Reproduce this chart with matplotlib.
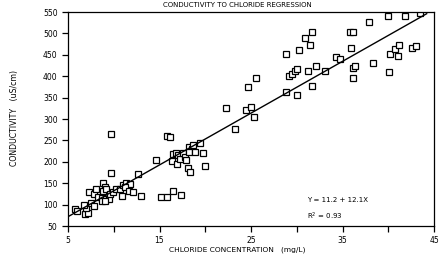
import numpy as np
import matplotlib
matplotlib.use("Agg")
import matplotlib.pyplot as plt

# chloride (mg/L) vs conductivity (uS/cm)
chloride = [5.8, 6.0, 6.9, 7.2, 7.0, 6.75, 7.5, 7.8, 7.25, 7.85, 8.1, 8.85,
            9.05, 8.8, 9.2, 8.3, 8.7, 8.7, 9.15, 9.5, 9.0, 9.75, 9.75, 9.6,
            9.95, 10.3, 10.7, 10.9, 11.0, 11.3, 11.8, 11.2, 11.7, 12.1, 12.7, 13.0,
            14.6, 15.2, 15.8, 16.5, 17.4, 15.8, 16.1, 16.5, 16.8, 17.0, 16.4, 16.9,
            17.2, 17.6, 17.8, 17.9, 18.2, 18.5, 18.7, 18.2, 18.9, 19.4, 19.8, 18.1,
            18.3, 20.0,
            22.3, 23.2, 24.4, 25.05, 25.3, 24.7, 25.6, 28.8, 30.2, 30.9, 31.7, 31.5,
            29.2, 29.5, 29.8, 30.0, 31.2, 32.1, 33.1, 28.8, 30.0, 31.7, 34.3, 34.7,
            35.85, 36.2, 35.9, 36.1, 36.35, 36.2, 37.9, 38.3, 40.0, 41.85, 43.5, 40.2,
            40.1, 40.75, 41.2, 41.1, 42.6, 43.0]
conductivity = [89, 84, 78, 81, 91, 99, 104, 97, 130, 125, 136, 150,
                141, 132, 136, 118, 115, 109, 112, 112, 109, 175, 266, 125,
                130, 136, 136, 120, 146, 150, 148, 142, 132, 130, 171, 120,
                204, 117, 118, 132, 122, 260, 259, 218, 221, 216, 203, 196,
                206, 221, 212, 204, 235, 229, 239, 224, 224, 245, 221, 185,
                177, 190,
                325, 276, 321, 329, 304, 374, 395, 453, 461, 490, 504, 472,
                400, 405, 412, 416, 413, 424, 412, 363, 355, 377, 444, 441,
                504, 504, 467, 418, 423, 396, 527, 432, 541, 541, 547, 451,
                409, 463, 473, 447, 466, 470]

intercept = 11.2
slope = 12.1
r2 = 0.93

fig = plt.figure(figsize=(4.42, 2.6), dpi=100)
ax = fig.add_axes([68/442, 1 - 226/260, 366/442, 214/260])

ax.plot(chloride, conductivity, "s", ms=4.4, mfc="white", mec="black", mew=0.9)

# regression line as printed on the chart
xfit = np.array([5, 44.2])
ax.plot(xfit, intercept + slope * xfit, color="black", lw=1)

ax.set_xlim(5, 45)
ax.set_ylim(50, 550)
ax.set_xticks([5, 15, 25, 35, 45])
ax.set_xticks([10, 20, 30, 40], minor=True)
ax.set_yticks(np.arange(50, 551, 50))
ax.tick_params(labelsize=5.5, length=4.5, width=0.9, pad=3)
ax.tick_params(which="minor", length=4.5, width=0.9)
for s in ax.spines.values():
    s.set_linewidth(0.9)

ax.text(31.1, 111, "Y = 11.2 + 12.1X", fontsize=5, va="center")
ax.text(31.1, 73, "R$^2$ = %.2f" % r2, fontsize=5, va="center")

fig.text(237/442, 1 - 5/260, "CONDUCTIVITY TO CHLORIDE REGRESSION",
         fontsize=5, ha="center", va="center")
fig.text(237/442, 1 - 250/260, "CHLORIDE CONCENTRATION   (mg/L)",
         fontsize=5.4, ha="center", va="center")
fig.text(15/442, 1 - 118/260, "CONDUCTIVITY   (uS/cm)",
         fontsize=5.6, ha="center", va="center", rotation=90)

fig.savefig("out.png", dpi=100)
